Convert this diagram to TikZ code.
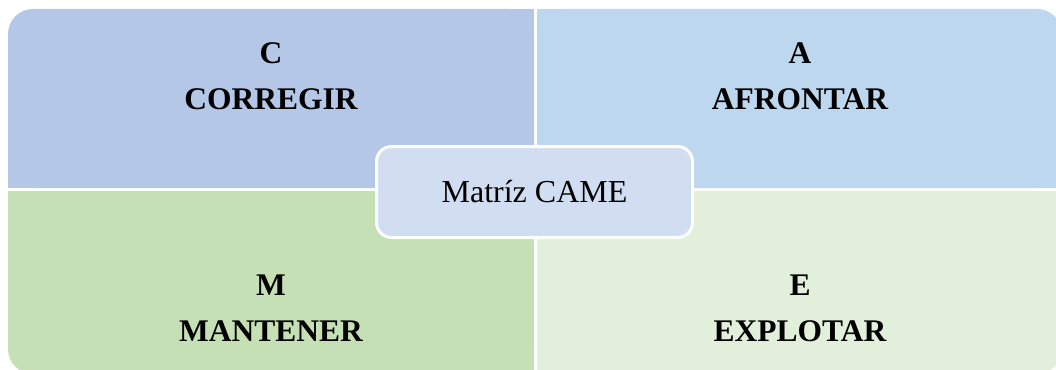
\documentclass[tikz,border=0pt]{standalone}
\usepackage{fontspec}
\setmainfont{Liberation Serif}
\definecolor{qtl}{RGB}{180,199,231}
\definecolor{qtr}{RGB}{189,215,238}
\definecolor{qbl}{RGB}{197,224,180}
\definecolor{qbr}{RGB}{226,239,218}
\definecolor{cbox}{RGB}{209,221,240}
\tikzset{
  quadtext/.style={align=center,inner sep=0pt,font=\fontsize{31.5}{46}\selectfont\bfseries},
  centerbox/.style={draw=white,line width=3pt,fill=cbox,rounded corners=15pt,
    minimum width=316pt,minimum height=91pt,inner sep=0pt,
    font=\fontsize{32}{38}\selectfont}
}
\begin{document}
\begin{tikzpicture}[x=1pt,y=-1pt]
\useasboundingbox (0,0) rectangle (1056,369);
\clip (0,0) rectangle (1056,369);
% top-left
\fill[qtl,rounded corners=25pt] (8,9) rectangle (534,188);
\fill[qtl] (40,9) rectangle (534,188);
\fill[qtl] (8,40) rectangle (534,188);
% top-right
\fill[qtr,rounded corners=25pt] (537,9) rectangle (1062,188);
\fill[qtr] (537,9) rectangle (1030,188);
\fill[qtr] (537,40) rectangle (1062,188);
% bottom-left
\fill[qbl,rounded corners=25pt] (8,191) rectangle (534,374);
\fill[qbl] (40,191) rectangle (534,374);
\fill[qbl] (8,191) rectangle (534,342);
% bottom-right
\fill[qbr,rounded corners=25pt] (537,191) rectangle (1062,374);
\fill[qbr] (537,191) rectangle (1030,374);
\fill[qbr] (537,191) rectangle (1062,342);
% texts
\node[quadtext] (c) at (271,76.5) {C\\CORREGIR};
\node[quadtext] (a) at (800,76.5) {A\\AFRONTAR};
\node[quadtext] (m) at (271,308) {M\\MANTENER};
\node[quadtext] (e) at (800,308) {E\\EXPLOTAR};
% center
\node[centerbox] (centre) at (534.5,192) {Matríz CAME};
\end{tikzpicture}
\end{document}
